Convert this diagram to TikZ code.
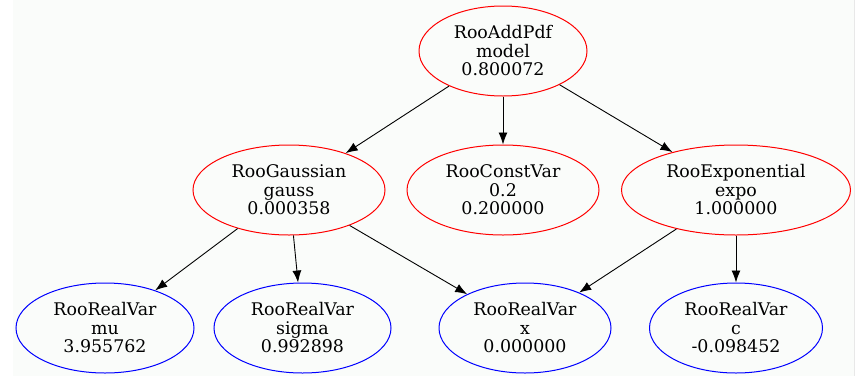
\documentclass[tikz,border=0pt]{standalone}
\usepackage{fontspec}
\setmainfont{DejaVu Serif}
\usetikzlibrary{shapes.geometric,arrows.meta}
\definecolor{bgcol}{HTML}{FAFCFA}
\definecolor{edgeline}{HTML}{E8E8E8}
\tikzset{
  pdf/.style={ellipse, draw=red, line width=1pt, inner sep=0pt, minimum height=90pt, align=center,
    font=\fontsize{17.4}{18.5}\selectfont},
  var/.style={pdf, draw=blue},
  link/.style={draw=black, line width=0.9pt, -{Latex[length=12pt,width=9pt]}}
}
\begin{document}
\begin{tikzpicture}[x=1pt,y=-1pt]
\useasboundingbox (0,0) rectangle (857,376);
\fill[bgcol] (13,0) rectangle (854,376);
\draw[edgeline, line width=0.8pt] (854.5,0) -- (854.5,376);
\node[pdf, minimum width=168pt] (model) at (503,51) {RooAddPdf\\model\\0.800072};
\node[pdf, minimum width=192pt] (gauss) at (289,190) {RooGaussian\\gauss\\0.000358};
\node[pdf, minimum width=192pt] (const) at (503,190) {RooConstVar\\0.2\\0.200000};
\node[pdf, minimum width=229pt] (expo) at (736,190) {RooExponential\\expo\\1.000000};
\node[var, minimum width=178pt] (mu) at (105,328) {RooRealVar\\mu\\3.955762};
\node[var, minimum width=177pt] (sigma) at (302.5,328) {RooRealVar\\sigma\\0.992898};
\node[var, minimum width=172pt] (x) at (525,328) {RooRealVar\\x\\0.000000};
\node[var, minimum width=173pt] (c) at (736,328) {RooRealVar\\c\\-0.098452};
\draw[link] (model) -- (gauss);
\draw[link] (model) -- (const);
\draw[link] (model) -- (expo);
\draw[link] (gauss) -- (mu);
\draw[link] (gauss) -- (sigma);
\draw[link] (gauss) -- (x);
\draw[link] (expo) -- (x);
\draw[link] (expo) -- (c);
\end{tikzpicture}
\end{document}
